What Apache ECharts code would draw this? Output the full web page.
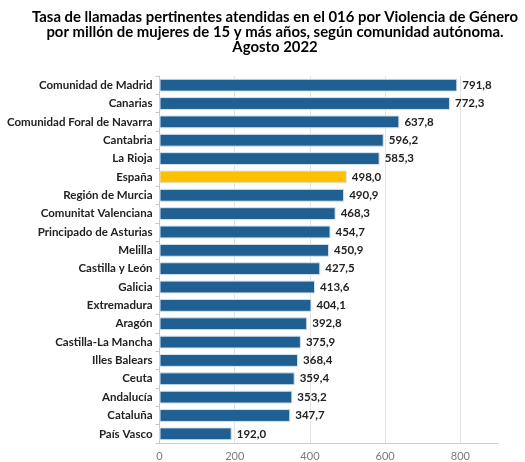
<!DOCTYPE html>
<html>
<head>
<meta charset="utf-8">
<script src="https://cdn.jsdelivr.net/npm/echarts@6/dist/echarts.min.js"></script>
<style>
html, body { margin: 0; padding: 0; background: #fff; }
#chart { width: 525px; height: 462px; }
</style>
</head>
<body>
<div id="chart"></div>
<script>
var regiones = ['Comunidad de Madrid', 'Canarias', 'Comunidad Foral de Navarra', 'Cantabria', 'La Rioja', 'España',
	'Región de Murcia', 'Comunitat Valenciana', 'Principado de Asturias', 'Melilla', 'Castilla y León', 'Galicia',
	'Extremadura', 'Aragón', 'Castilla-La Mancha', 'Illes Balears', 'Ceuta', 'Andalucía', 'Cataluña', 'País Vasco'];
var tasas = [791.8, 772.3, 637.8, 596.2, 585.3, 498.0, 490.9, 468.3, 454.7, 450.9, 427.5, 413.6,
	404.1, 392.8, 375.9, 368.4, 359.4, 353.2, 347.7, 192.0];
var destacado = 'España';

var myChart = echarts.init(document.getElementById('chart'));

var datos = [];
for (var i = 0; i < tasas.length; i++) {
	datos.push({
		value: tasas[i],
		itemStyle: { color: regiones[i] === destacado ? '#FFC000' : '#1F5F92' }
	});
}

myChart.setOption({
	textStyle: { fontFamily: 'Lato' },
	title: {
		text: 'Tasa de llamadas pertinentes atendidas en el 016 por Violencia de Género\npor millón de mujeres de 15 y más años, según comunidad autónoma.\nAgosto 2022',
		left: 270,
		textAlign: 'center',
		top: 5,
		textStyle: { fontSize: 14.9, fontWeight: 'bold', color: '#000', lineHeight: 15, fontFamily: 'Lato' }
	},
	grid: { left: 159.5, right: 27, top: 76, bottom: 19, containLabel: false },
	xAxis: {
		type: 'value',
		min: 0,
		max: 900,
		interval: 200,
		axisLine: { show: true, lineStyle: { color: '#d0d0d0' } },
		axisTick: { show: false },
		axisLabel: { color: '#7a7a7a', fontSize: 11, showMaxLabel: false, margin: 8 },
		splitLine: { lineStyle: { color: ['#e3e3e3', '#e3e3e3', '#e3e3e3', '#e3e3e3', '#e3e3e3', 'rgba(0,0,0,0)'] } }
	},
	yAxis: {
		type: 'category',
		inverse: true,
		data: regiones,
		axisLine: { show: true, lineStyle: { color: '#c8c8c8' } },
		axisTick: { show: true, length: 4, lineStyle: { color: '#c8c8c8' } },
		axisLabel: { color: '#222', fontSize: 11.5, fontWeight: 'bold', margin: 7 }
	},
	series: [{
		type: 'bar',
		data: datos,
		barWidth: '70%',
		itemStyle: { borderColor: '#d6e4f0', borderWidth: 1 },
		label: {
			show: true,
			position: 'right',
			distance: 5,
			color: '#222',
			fontSize: 11.5,
			fontWeight: 'bold',
			formatter: function (p) { return p.value.toFixed(1).replace('.', ','); }
		}
	}]
});
</script>
</body>
</html>
